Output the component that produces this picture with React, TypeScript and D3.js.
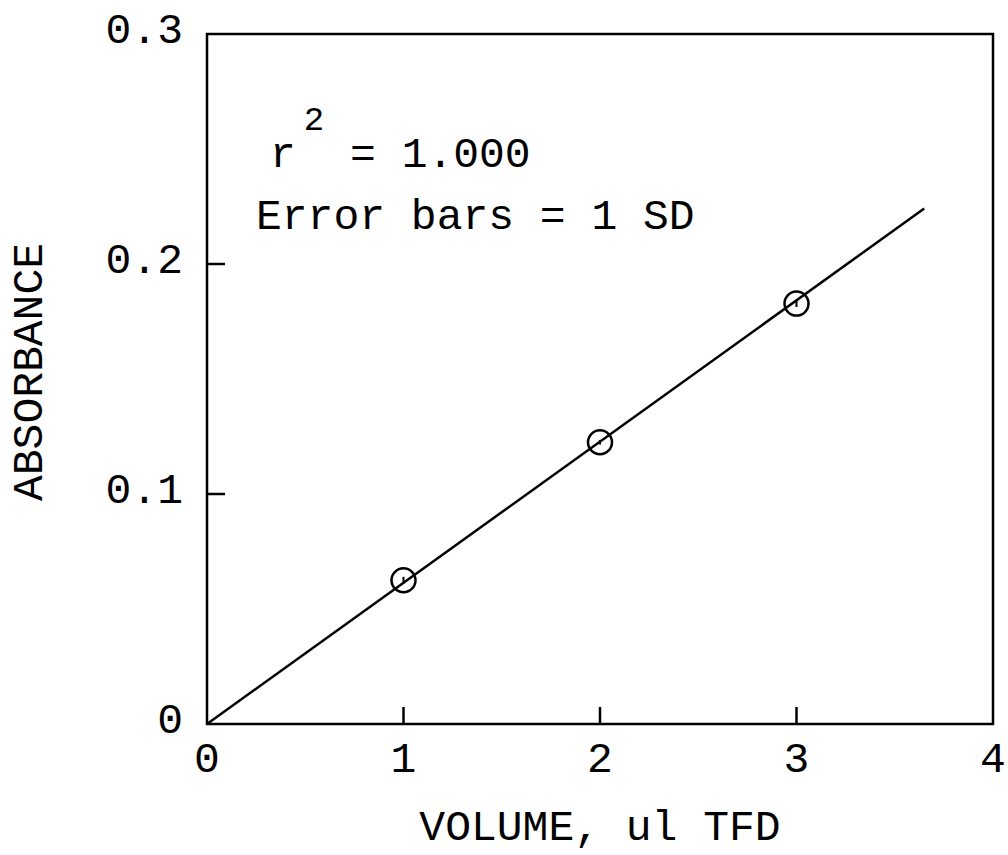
import React from 'react'
import * as d3 from 'd3'

// data
const volumes = [1, 2, 3]
const absorbance = [0.0625, 0.1225, 0.1828]
const sd = [0.0015, 0.001, 0.0015]
const fitSlope = 0.0614
const fitIntercept = 0
const fitRange = [0, 3.65]

const xTicks = [0, 1, 2, 3, 4]
const xTickLabels = ['0', '1', '2', '3', '4']
const yTicks = [0, 0.1, 0.2, 0.3]
const yTickLabels = ['0', '0.1', '0.2', '0.3']

const font = '"Liberation Mono", "DejaVu Sans Mono", monospace'

export default function App() {
    const width = 1008
    const height = 855
    const margin = { top: 34, right: 15, bottom: 131, left: 207 }

    const x = d3.scaleLinear().domain([0, 4]).range([margin.left, width - margin.right])
    const y = d3.scaleLinear().domain([0, 0.3]).range([height - margin.bottom, margin.top])

    const fitLine = d3.line<number>()
        .x(d => x(d))
        .y(d => y(fitIntercept + fitSlope * d))

    const x0 = x(0)
    const y0 = y(0)

    return (
        <svg width={width} height={height} style={{ position: 'absolute', left: 0, top: 0, background: '#fff' }}>
            {/* frame */}
            <rect x={x(0)} y={y(0.3)} width={x(4) - x(0)} height={y(0) - y(0.3)}
                fill="none" stroke="#000" strokeWidth={2.5} />

            {/* ticks, pointing inward */}
            {yTicks.slice(1, -1).map(t => (
                <line key={'yt' + t} x1={x0} x2={x0 + 18} y1={y(t)} y2={y(t)} stroke="#000" strokeWidth={2.5} />
            ))}
            {xTicks.slice(1, -1).map(t => (
                <line key={'xt' + t} x1={x(t)} x2={x(t)} y1={y0} y2={y0 - 17} stroke="#000" strokeWidth={2.5} />
            ))}

            {/* tick labels */}
            {yTicks.map((t, i) => (
                <text key={'yl' + t} x={183} y={y(t) - 3} textAnchor="end" dominantBaseline="central"
                    fontFamily={font} fontSize={43} fill="#000">{yTickLabels[i]}</text>
            ))}
            {xTicks.map((t, i) => (
                <text key={'xl' + t} x={x(t)} y={760} textAnchor="middle" dominantBaseline="central"
                    fontFamily={font} fontSize={43} fill="#000">{xTickLabels[i]}</text>
            ))}

            {/* axis titles */}
            <text x={(x(0) + x(4)) / 2} y={828} textAnchor="middle" dominantBaseline="central"
                fontFamily={font} fontSize={43} fill="#000">VOLUME, ul TFD</text>
            <text transform={`translate(30, ${(y(0) + y(0.3)) / 2 - 7}) rotate(-90)`} textAnchor="middle"
                dominantBaseline="central" fontFamily={font} fontSize={43} fill="#000">ABSORBANCE</text>

            {/* annotations */}
            <text x={270} y={167} fontFamily={font} fontSize={43} fill="#000" xmlSpace="preserve">
                r<tspan dx={8} dy={-37} fontSize={34}>2</tspan><tspan dy={37}>{' = 1.000'}</tspan>
            </text>
            <text x={256} y={229} fontFamily={font} fontSize={43} fill="#000" xmlSpace="preserve">Error bars = 1 SD</text>

            {/* regression line */}
            <path d={fitLine(fitRange) || ''} fill="none" stroke="#000" strokeWidth={2.5} />

            {/* data points with error bars */}
            {volumes.map((v, i) => (
                <g key={'p' + v}>
                    <line x1={x(v)} x2={x(v)} y1={y(absorbance[i] - sd[i])} y2={y(absorbance[i] + sd[i])}
                        stroke="#000" strokeWidth={2} />
                    <circle cx={x(v)} cy={y(absorbance[i])} r={12} fill="none" stroke="#000" strokeWidth={2.5} />
                </g>
            ))}
        </svg>
    )
}
